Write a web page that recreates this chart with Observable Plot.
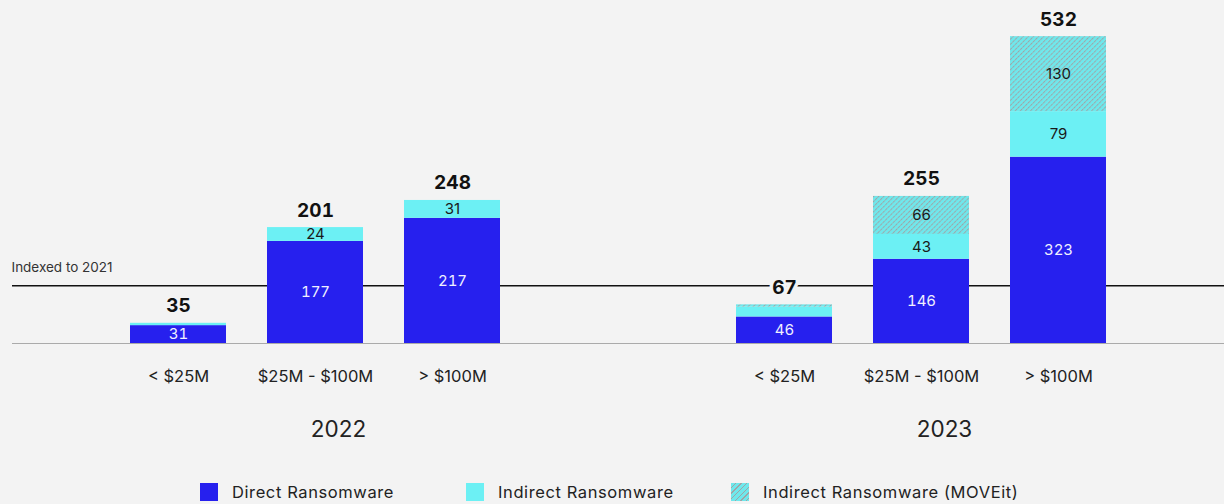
<!DOCTYPE html>
<html><head><meta charset="utf-8">
<script src="https://cdn.jsdelivr.net/npm/d3@7"></script>
<script src="https://cdn.jsdelivr.net/npm/@observablehq/plot@0.6"></script>
<style>
html,body{margin:0;padding:0;background:#f3f3f3;}
body{width:1224px;height:504px;overflow:hidden;font-family:Inter, "Noto Sans", sans-serif;}
#legend{display:grid;grid-template-columns:266px 265px 320px;margin-left:200px;height:33px;align-items:center;}
.item{display:flex;align-items:center;font-size:16.5px;letter-spacing:0.6px;color:#222;}
.sw{width:18px;height:18px;margin-right:14px;flex:none;}
</style></head><body><div id="chart"></div><div id="legend"></div>
<script>
const years = ["2022", "2022", "2022", "2023", "2023", "2023"];
const categories = ["< $25M", "$25M - $100M", "> $100M"];
const revenue = ["< $25M", "$25M - $100M", "> $100M", "< $25M", "$25M - $100M", "> $100M"];
const seriesNames = ["Direct Ransomware", "Indirect Ransomware", "Indirect Ransomware (MOVEit)"];
const direct = [31, 177, 217, 46, 146, 323];
const indirect = [4, 24, 31, 17, 43, 79];
const moveit = [0, 0, 0, 4, 66, 130];
const indexLevel = 100;
const indexLabel = "Indexed to 2021";

const colors = ["#2620ee", "#6cf0f4", "url(#hatch)"];

const seriesValues = [direct, indirect, moveit];
const long = [];
seriesNames.forEach((s, si) => {
  years.forEach((y, i) => long.push({year: y, cat: revenue[i], series: s, value: seriesValues[si][i]}));
});
const totals = years.map((y, i) => ({year: y, cat: revenue[i], total: direct[i] + indirect[i] + moveit[i]}));

const defs = () => {
  const svg = d3.create("svg:defs");
  const p = svg.append("pattern").attr("id", "hatch").attr("patternUnits", "userSpaceOnUse")
    .attr("width", 3.6).attr("height", 3.6).attr("patternTransform", "rotate(45)");
  p.append("rect").attr("width", 3.6).attr("height", 3.6).attr("fill", "#6fe8ec");
  p.append("line").attr("x1", 0.5).attr("x2", 0.5).attr("y1", 0).attr("y2", 3.6)
    .attr("stroke", "#a0a4a6").attr("stroke-width", 1).attr("stroke-dasharray", "1.6 0.6");
  return svg.node();
};

const chart = Plot.plot({
  width: 1224, height: 475,
  marginLeft: 12, marginRight: 0, marginTop: 20, marginBottom: 132,
  style: {background: "transparent", fontFamily: "Inter, 'Noto Sans', sans-serif", color: "#222"},
  fx: {domain: ["2022", "2023"], padding: 0, label: null},
  x: {domain: categories, paddingInner: 0.3, paddingOuter: 0.85, label: null},
  y: {domain: [0, 560], axis: null},
  color: {domain: seriesNames, range: colors},
  marks: [
    defs,
    Plot.ruleY([0], {stroke: "#aaaaaa", strokeWidth: 1.2}),
    Plot.ruleY([indexLevel], {stroke: "#111", strokeWidth: 1.5}),
    Plot.text([{year: "2022"}], {fx: "year", frameAnchor: "left", y: indexLevel, text: () => indexLabel,
      textAnchor: "start", dy: -18, dx: -1, fontSize: 13.5, letterSpacing: 0.3, fill: "#333"}),
    Plot.barY(long, Plot.stackY({fx: "year", x: "cat", y: "value", fill: "series", order: seriesNames})),
    Plot.text(long, Plot.stackY({fx: "year", x: "cat", y: "value", z: "series", order: seriesNames,
      text: d => (d.series === seriesNames[0] && d.value > 20) ? d.value : "",
      fill: "#f0f0ff", fontSize: 15})),
    Plot.text(long, Plot.stackY({fx: "year", x: "cat", y: "value", z: "series", order: seriesNames,
      text: d => (d.series !== seriesNames[0] && d.value > 20) ? d.value : "",
      fill: "#1a1a1a", fontSize: 15})),
    Plot.text(totals, {fx: "year", x: "cat", y: "total", text: "total", lineAnchor: "bottom", dy: -11,
      fontSize: 19, fontWeight: "bold", fill: "#111", stroke: "#f3f3f3", strokeWidth: 7, paintOrder: "stroke"}),
    Plot.axisX({tickSize: 0, tickPadding: 27, fontSize: 16.5, letterSpacing: 0.6, label: null, fill: "#222"}),
    Plot.axisFx({anchor: "bottom", tickSize: 0, tickPadding: 78, dx: 23, fontSize: 22.5, letterSpacing: 0.3, label: null, fill: "#222"})
  ]
});
document.getElementById("chart").append(chart);

const legend = document.getElementById("legend");
seriesNames.forEach((s, i) => {
  const item = document.createElement("div");
  item.className = "item";
  const sw = document.createElement("div");
  sw.className = "sw";
  sw.style.background = i < 2 ? colors[i]
    : "repeating-linear-gradient(135deg, #6fe8ec 0px, #6fe8ec 3px, #a0a4a6 3px, #a0a4a6 4px)";
  const t = document.createElement("span");
  t.textContent = s;
  item.append(sw, t);
  legend.append(item);
});
</script>
</body></html>
